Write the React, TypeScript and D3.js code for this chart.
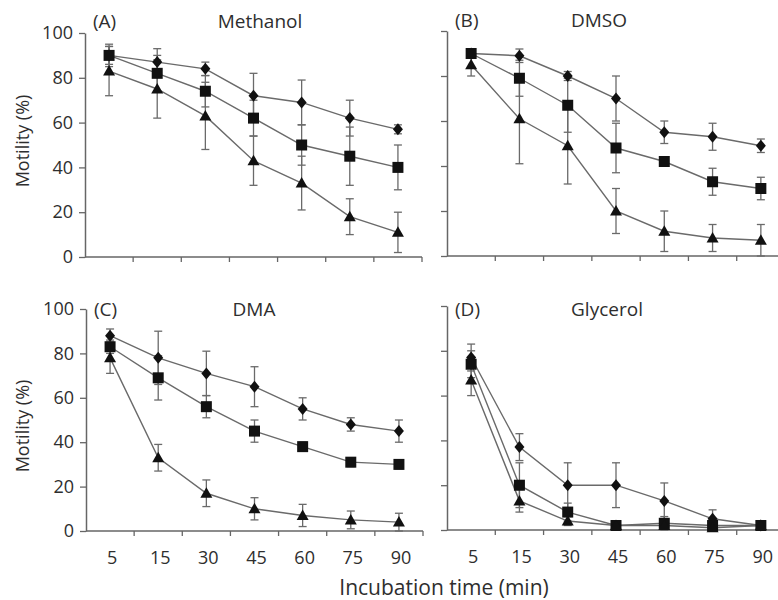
import React, { useEffect, useRef } from 'react';
import * as d3 from 'd3';

const times = ['5', '15', '30', '45', '60', '75', '90'];
const solvents = ['Methanol', 'DMSO', 'DMA', 'Glycerol'];
const letters = ['(A)', '(B)', '(C)', '(D)'];
const yTickValues = [0, 20, 40, 60, 80, 100];

// rows: diamond, square, triangle series
const methanolMeans = [
  [90, 87, 84, 72, 69, 62, 57],
  [90, 82, 74, 62, 50, 45, 40],
  [83, 75, 63, 43, 33, 18, 11],
];
const methanolErrors = [
  [5, 6, 3, 10, 10, 8, 2],
  [4, 8, 7, 8, 9, 13, 10],
  [11, 13, 15, 11, 12, 8, 9],
];

const dmsoMeans = [
  [90, 89, 80, 70, 55, 53, 49],
  [90, 79, 67, 48, 42, 33, 30],
  [85, 61, 49, 20, 11, 8, 7],
];
const dmsoErrors = [
  [2, 3, 2, 10, 5, 6, 3],
  [2, 8, 12, 11, 2, 6, 5],
  [5, 20, 17, 10, 9, 6, 7],
];

const dmaMeans = [
  [88, 78, 71, 65, 55, 48, 45],
  [83, 69, 56, 45, 38, 31, 30],
  [78, 33, 17, 10, 7, 5, 4],
];
const dmaErrors = [
  [3, 12, 10, 9, 5, 3, 5],
  [3, 10, 5, 5, 2, 2, 2],
  [7, 6, 6, 5, 5, 4, 4],
];

const glycerolMeans = [
  [77, 37, 20, 20, 13, 5, 2],
  [74, 20, 8, 2, 3, 2, 2],
  [67, 13, 4, 2, 2, 1, 2],
];
const glycerolErrors = [
  [6, 6, 10, 10, 8, 4, 1],
  [6, 10, 4, 1, 3, 1, 1],
  [7, 5, 2, 1, 1, 1, 1],
];

const markerPaths = [
  'M0,-6L5,0L0,6L-5,0Z',
  'M-5.5,-5.5h11v11h-11Z',
  'M0,-6L6,4.5L-6,4.5Z',
];

const font = "'Open Sans', 'Liberation Sans', sans-serif";
const axisColor = '#666';
const lineColor = '#6a6a6a';
const textColor = '#2e2e2e';

export default function App() {
  const ref = useRef<SVGSVGElement>(null);

  useEffect(() => {
    const svg = d3.select(ref.current);
    svg.selectAll('*').remove();

    const panels = [
      { means: methanolMeans, errors: methanolErrors, x0: 85, x1: 422, top: 33, bottom: 257, titleX: 260, titleY: 21, showX: false, showY: true },
      { means: dmsoMeans, errors: dmsoErrors, x0: 447, x1: 785, top: 31, bottom: 256, titleX: 599, titleY: 20, showX: false, showY: false },
      { means: dmaMeans, errors: dmaErrors, x0: 86, x1: 423, top: 309, bottom: 531, titleX: 254, titleY: 309, showX: true, showY: true },
      { means: glycerolMeans, errors: glycerolErrors, x0: 447, x1: 785, top: 306, bottom: 530, titleX: 607, titleY: 309, showX: true, showY: false },
    ];

    panels.forEach((p, i) => {
      const g = svg.append('g');
      const x = d3.scaleBand().domain(times).range([p.x0, p.x1]);
      const y = d3.scaleLinear().domain([0, 100]).range([p.bottom, p.top]);
      const cx = (t: string) => (x(t) as number) + x.bandwidth() / 2;

      // y axis
      g.append('g')
        .attr('transform', `translate(${p.x0},0)`)
        .call(
          d3.axisLeft(y)
            .tickValues(yTickValues)
            .tickSize(6)
            .tickSizeOuter(0)
            .tickPadding(6)
            .tickFormat(p.showY ? d3.format('d') : () => '')
        )
        .call((a) => {
          a.attr('font-family', font).attr('font-size', 18);
          a.select('.domain').attr('stroke', axisColor).attr('stroke-width', 1.5);
          a.selectAll('.tick line').attr('stroke', axisColor).attr('stroke-width', 1.3);
          a.selectAll('.tick text').attr('fill', textColor);
        });

      // x axis
      g.append('line')
        .attr('x1', p.x0).attr('x2', p.x1)
        .attr('y1', p.bottom).attr('y2', p.bottom)
        .attr('stroke', axisColor).attr('stroke-width', 1.5);

      g.selectAll('.xtick')
        .data(times)
        .enter().append('line')
        .attr('x1', (t) => (x(t) as number) + x.bandwidth())
        .attr('x2', (t) => (x(t) as number) + x.bandwidth())
        .attr('y1', p.bottom)
        .attr('y2', p.bottom + 5)
        .attr('stroke', axisColor).attr('stroke-width', 1.3);

      if (p.showX) {
        g.selectAll('.xlabel')
          .data(times)
          .enter().append('text')
          .attr('x', (t) => cx(t) + 2)
          .attr('y', p.bottom + 27)
          .attr('dy', '0.35em')
          .attr('text-anchor', 'middle')
          .attr('font-family', font)
          .attr('font-size', 18)
          .attr('fill', textColor)
          .text((t) => t);
      }

      // titles
      g.append('text')
        .attr('x', p.x0 + 8).attr('y', p.titleY).attr('dy', '0.35em')
        .attr('font-family', font).attr('font-size', 19).attr('fill', textColor)
        .text(letters[i]);
      g.append('text')
        .attr('x', p.titleX).attr('y', p.titleY).attr('dy', '0.35em')
        .attr('text-anchor', 'middle')
        .attr('font-family', font).attr('font-size', 19).attr('fill', textColor)
        .text(solvents[i]);

      const line = d3.line<number>()
        .x((d, j) => cx(times[j]))
        .y((d) => y(d));

      // error bars
      p.means.forEach((vals, s) => {
        const errs = p.errors[s];
        const eg = g.append('g').attr('stroke', lineColor).attr('stroke-width', 1.3);
        vals.forEach((v, j) => {
          const px = cx(times[j]);
          const lo = y(Math.max(0, v - errs[j]));
          const hi = y(v + errs[j]);
          eg.append('line').attr('x1', px).attr('x2', px).attr('y1', lo).attr('y2', hi);
          eg.append('line').attr('x1', px - 4).attr('x2', px + 4).attr('y1', lo).attr('y2', lo);
          eg.append('line').attr('x1', px - 4).attr('x2', px + 4).attr('y1', hi).attr('y2', hi);
        });
      });

      // connecting lines
      p.means.forEach((vals) => {
        g.append('path')
          .datum(vals)
          .attr('d', line)
          .attr('fill', 'none')
          .attr('stroke', lineColor)
          .attr('stroke-width', 1.4);
      });

      // markers
      p.means.forEach((vals, s) => {
        g.selectAll(`.m${s}`)
          .data(vals)
          .enter().append('path')
          .attr('d', markerPaths[s])
          .attr('transform', (d, j) => `translate(${cx(times[j])},${y(d)})`)
          .attr('fill', '#111');
      });
    });

    // axis titles
    [141, 426].forEach((cy) => {
      svg.append('text')
        .attr('transform', `translate(23,${cy}) rotate(-90)`)
        .attr('text-anchor', 'middle')
        .attr('dy', '0.35em')
        .attr('font-family', font)
        .attr('font-size', 18)
        .attr('fill', textColor)
        .text('Motility (%)');
    });

    svg.append('text')
      .attr('x', 444).attr('y', 595)
      .attr('text-anchor', 'middle')
      .attr('font-family', font)
      .attr('font-size', 21)
      .attr('fill', textColor)
      .text('Incubation time (min)');
  }, []);

  return (
    <div id="chartArea">
      <svg
        ref={ref}
        width={778}
        height={600}
        style={{ position: 'absolute', left: 0, top: 0, background: '#fff' }}
      />
    </div>
  );
}
